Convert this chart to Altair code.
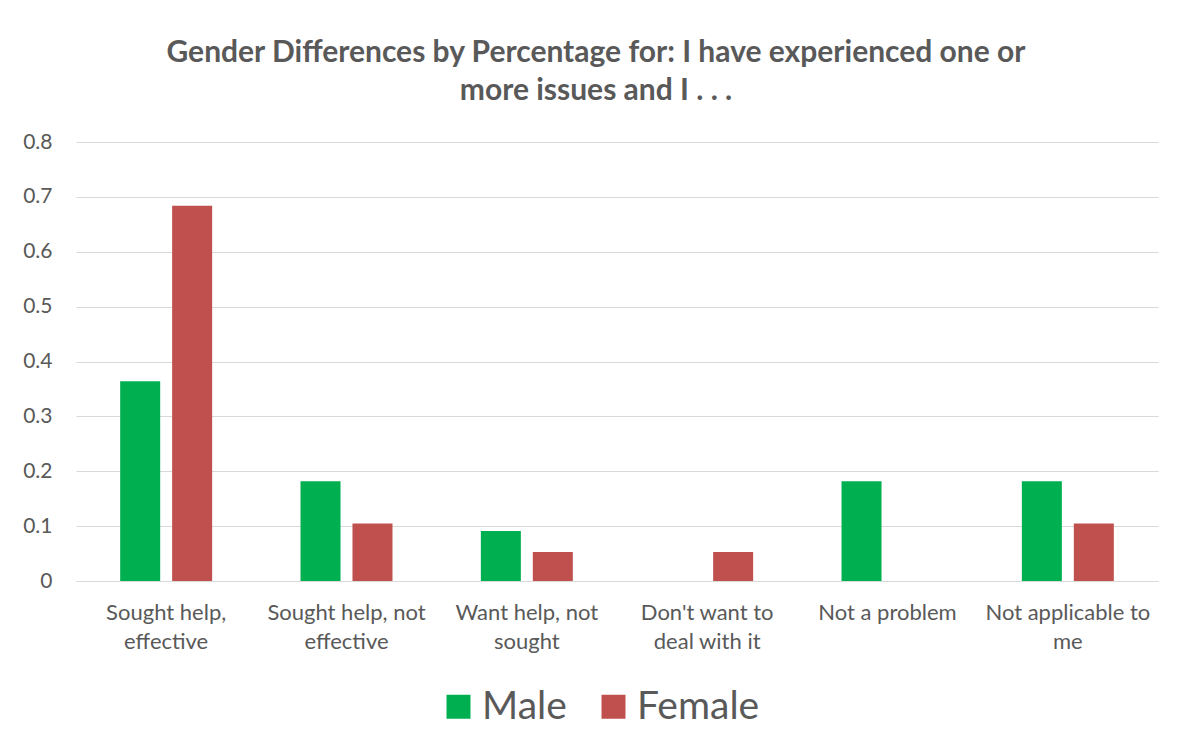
import altair as alt
import pandas as pd

categories = ["Sought help, effective", "Sought help, not effective", "Want help, not sought",
              "Don't want to deal with it", "Not a problem", "Not applicable to me"]
label_lines = [["Sought help,", "effective"], ["Sought help, not", "effective"], ["Want help, not", "sought"],
               ["Don't want to", "deal with it"], ["Not a problem"], ["Not applicable to", "me"]]
male = [0.364, 0.182, 0.091, 0.0, 0.182, 0.182]
female = [0.684, 0.105, 0.053, 0.053, 0.0, 0.105]
series = ["Male", "Female"]
colors = ["#00B050", "#C0504D"]
y_ticks = [0, 0.1, 0.2, 0.3, 0.4, 0.5, 0.6, 0.7, 0.8]

rows = []
for c, m, f in zip(categories, male, female):
    rows.append({"cat": c, "gender": "Male", "value": m})
    rows.append({"cat": c, "gender": "Female", "value": f})
df = pd.DataFrame(rows)

mapping = "{" + ", ".join(
    "'" + c.replace("'", "\\'") + "': [" + ", ".join("'" + l.replace("'", "\\'") + "'" for l in ls) + "]"
    for c, ls in zip(categories, label_lines)) + "}"
label_expr = mapping + "[datum.label]"

FONT = "Lato"
GRAY = "#595959"

chart = alt.Chart(df).mark_bar().encode(
    x=alt.X("cat:N", sort=categories, title=None,
            scale=alt.Scale(paddingInner=0.49, paddingOuter=0.245),
            axis=alt.Axis(labelAngle=0, labelExpr=label_expr, labelFontSize=22, labelColor=GRAY,
                          labelFont=FONT, labelPadding=21, labelLineHeight=29, ticks=False,
                          domainColor="#d9d9d9", labelBaseline="top")),
    xOffset=alt.XOffset("gender:N", sort=series, scale=alt.Scale(paddingInner=0.23, paddingOuter=0)),
    y=alt.Y("value:Q", title=None, scale=alt.Scale(domain=[0, 0.8], nice=False),
            axis=alt.Axis(values=y_ticks, format="", labelFontSize=21, labelColor=GRAY, labelFont=FONT,
                          labelPadding=24, ticks=False, domain=False, gridColor="#d9d9d9")),
    color=alt.Color("gender:N", sort=series, scale=alt.Scale(domain=series, range=colors),
                    legend=alt.Legend(title=None, orient="none", direction="horizontal",
                                      legendX=363, legendY=545, symbolType="square", symbolSize=576,
                                      symbolStrokeWidth=0, labelFontSize=39, labelColor=GRAY,
                                      labelFont=FONT, labelOffset=4, columnPadding=27)),
).properties(
    width=1082, height=439,
    title=alt.TitleParams(
        ["Gender Differences by Percentage for: I have experienced one or", "more issues and I . . ."],
        fontSize=30, font=FONT, fontWeight="bold", color=GRAY, anchor="middle", offset=25,
        lineHeight=38, dx=-21),
    autosize=alt.AutoSizeParams(type="none"),
    padding={"left": 68, "top": 134, "right": 13, "bottom": 172},
).configure_view(stroke=None)

chart.save("out.html", embed_options={"renderer": "svg", "actions": False})
